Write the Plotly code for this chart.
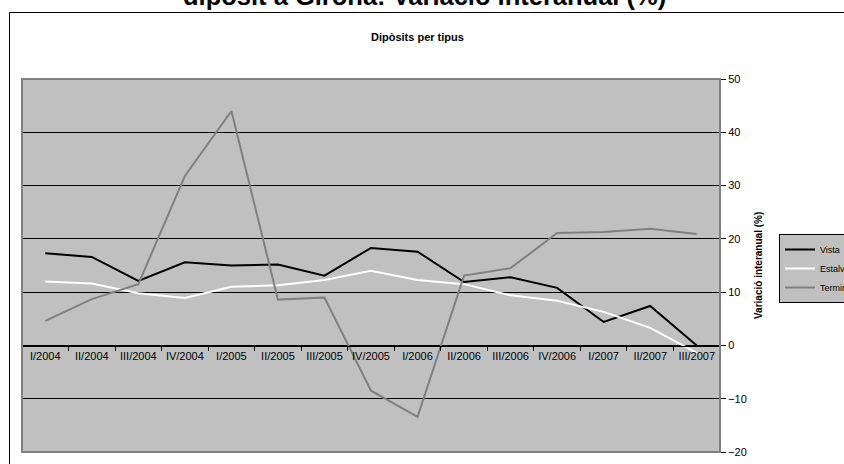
import plotly.graph_objects as go

# quarters shown on the category axis
quarters = ['I/2004', 'II/2004', 'III/2004', 'IV/2004',
            'I/2005', 'II/2005', 'III/2005', 'IV/2005',
            'I/2006', 'II/2006', 'III/2006', 'IV/2006',
            'I/2007', 'II/2007', 'III/2007']

# year-on-year change (%)
vista = [17.3, 16.6, 12.1, 15.6, 15.0, 15.2, 13.1, 18.3, 17.6, 11.9, 12.8, 10.8, 4.4, 7.4, 0.0]
estalvi = [12.0, 11.6, 9.8, 8.9, 11.0, 11.3, 12.3, 14.0, 12.3, 11.5, 9.4, 8.4, 6.3, 3.3, -1.4]
termini = [4.6, 8.7, 11.5, 31.8, 44.0, 8.6, 9.0, -8.5, -13.4, 13.1, 14.5, 21.1, 21.3, 21.9, 20.9]

# the original chart runs past the right edge of the window, so the figure
# is a bit wider than the 844px view and gets cut like the source
W, H = 870, 464
L, R, T, B = 22, 150, 79, 12
pw, ph = W - L - R, H - T - B


def px_x(p):
    return (p - L) / pw


def px_y(p):
    return (H - B - p) / ph


FONT = 'Arial, Liberation Sans, sans-serif'

fig = go.Figure()

fig.add_trace(go.Scatter(x=quarters, y=vista, name='Vista', mode='lines',
                         line=dict(color='#000000', width=2)))
fig.add_trace(go.Scatter(x=quarters, y=estalvi, name='Estalvi', mode='lines',
                         line=dict(color='#FFFFFF', width=2)))
fig.add_trace(go.Scatter(x=quarters, y=termini, name='Termini', mode='lines',
                         line=dict(color='#808080', width=2)))

fig.update_layout(
    width=W, height=H,
    margin=dict(l=L, r=R, t=T, b=B, pad=0, autoexpand=False),
    paper_bgcolor='white',
    plot_bgcolor='#C0C0C0',
    font=dict(family=FONT, size=11, color='black'),
    showlegend=True,
    legend=dict(xref='container', yref='container',
                x=779 / W, y=1 - 234 / H, xanchor='left', yanchor='top',
                bgcolor='#C0C0C0', bordercolor='black', borderwidth=1,
                font=dict(size=9, family=FONT), itemwidth=30,
                tracegroupgap=0),
)

fig.update_xaxes(
    type='category', range=[-0.5, 14.5],
    anchor='free', position=px_y(345.7), automargin=False,
    showline=True, linecolor='black', linewidth=1,
    ticks='outside', tickson='boundaries', ticklen=4, tickcolor='black',
    showgrid=False, tickfont=dict(size=11), tickangle=0,
)

fig.update_yaxes(
    side='right', range=[-20, 50], dtick=10, automargin=False,
    showline=True, linecolor='black', linewidth=1,
    ticks='outside', ticklen=5, tickcolor='black',
    showgrid=True, gridcolor='#000000', gridwidth=1,
    zeroline=False, tickfont=dict(size=11),
)

# plot area border (grey top/left/bottom)
fig.add_shape(type='rect', xref='paper', yref='paper', x0=0, x1=1, y0=0, y1=1,
              line=dict(color='#808080', width=2), layer='above')
# outer chart frame
fig.add_shape(type='rect', xref='paper', yref='paper',
              x0=px_x(9.5), x1=px_x(880), y0=px_y(480), y1=px_y(12.5),
              line=dict(color='black', width=1), layer='above')

fig.add_annotation(text='<b>dipòsit a Girona: Variació interanual (%)</b>',
                   xref='paper', yref='paper', x=px_x(425), y=px_y(-4),
                   xanchor='center', yanchor='middle', showarrow=False,
                   font=dict(size=25.5, family=FONT))
fig.add_annotation(text='<b>Dipòsits per tipus</b>',
                   xref='paper', yref='paper', x=px_x(417), y=px_y(37),
                   xanchor='center', yanchor='middle', showarrow=False,
                   font=dict(size=11, family=FONT))
# axis title on the right
fig.add_annotation(text='<b>Variació interanual (%)</b>',
                   xref='paper', yref='paper', x=px_x(758), y=px_y(265),
                   xanchor='center', yanchor='middle', showarrow=False,
                   textangle=-90, font=dict(size=10, family=FONT))

# page body has a default margin; drop it so the figure sits at the corner
fig.write_html('out.html', config={'displayModeBar': False},
               post_script="document.body.style.margin = '0';"
                           "document.body.style.overflow = 'hidden';")
